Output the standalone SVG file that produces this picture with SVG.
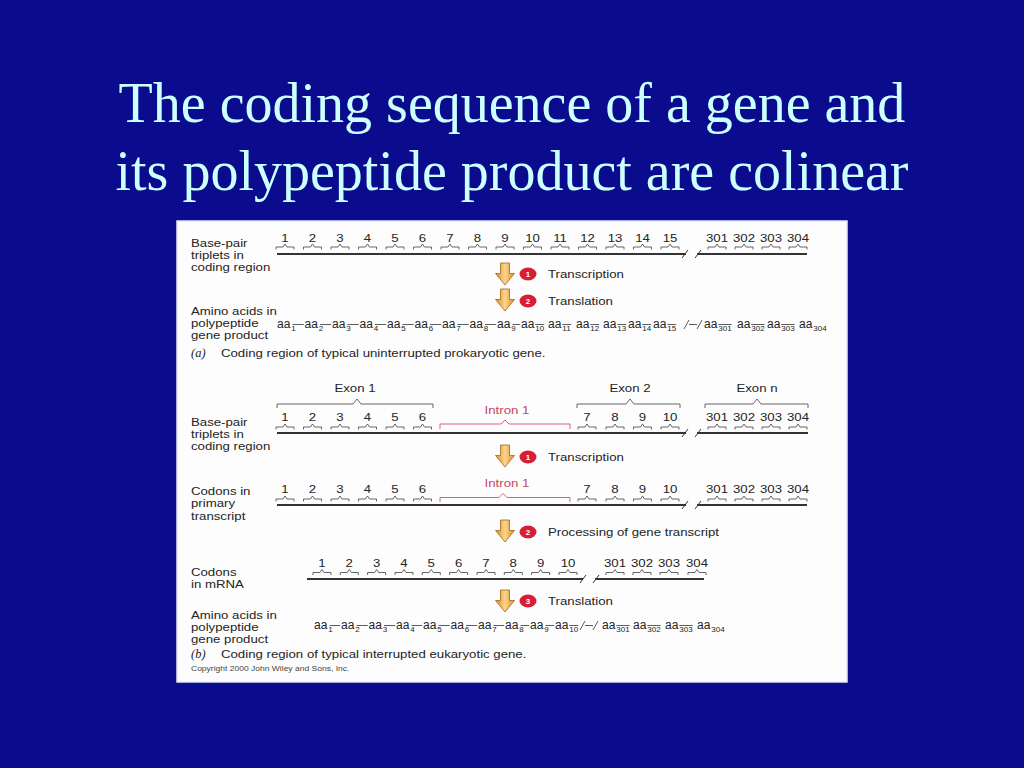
<svg xmlns="http://www.w3.org/2000/svg" xmlns:xlink="http://www.w3.org/1999/xlink" width="1024" height="768" viewBox="0 0 1024 768">
<defs>
<style>
.title{font-family:"Liberation Serif","Times New Roman",serif;font-size:56px;fill:#ccffff;text-anchor:middle}
.t{font-family:"Liberation Sans",Arial,sans-serif;font-size:11.5px;fill:#242424;transform-box:fill-box;transform-origin:0% 50%;transform:scaleX(1.15)}
.n{font-family:"Liberation Sans",Arial,sans-serif;font-size:11.5px;fill:#242424;text-anchor:middle;transform-box:fill-box;transform-origin:50% 50%;transform:scaleX(1.15)}
.red{fill:#c8485f}
.it{font-family:"Liberation Serif","Times New Roman",serif;font-style:italic;font-size:12.5px;fill:#242424}
.cp{font-family:"Liberation Sans",Arial,sans-serif;font-size:7.4px;fill:#444;transform-box:fill-box;transform-origin:0% 50%;transform:scaleX(1.15)}
.aa{font-family:"Liberation Sans",Arial,sans-serif;font-size:12px;fill:#242424}
.s{font-size:8px}
.ml{fill:none;stroke:#333;stroke-width:2}
.bm{fill:none;stroke:#333;stroke-width:1}
.br{fill:none;stroke:#555;stroke-width:0.9}
.ibr{fill:none;stroke:#d2506a;stroke-width:0.9}
.dash{fill:none;stroke:#333;stroke-width:0.8}
.arr{fill:url(#og);stroke:#9a6a20;stroke-width:0.8}
.dot{fill:#d81e35}
.dn{font-family:"Liberation Sans",Arial,sans-serif;font-size:8px;font-weight:bold;fill:#fff;text-anchor:middle}
</style>
<linearGradient id="og" x1="0" y1="0" x2="1" y2="0">
<stop offset="0" stop-color="#e08a1e"/>
<stop offset="0.5" stop-color="#fcd58e"/>
<stop offset="1" stop-color="#e08a1e"/>
</linearGradient>
<path id="arrow" class="arr" d="M-4.5,0 H4.5 V10.5 H9.5 L0,22 L-9.5,10.5 H-4.5 Z"/>
<path id="sb" d="M-9,2.5 V0 H-2 L0,-3 L2,0 H9 V2.5"/>
</defs>

<rect width="1024" height="768" fill="#0b0b8e"/>
<g id="title">
<text class="title" x="512" y="122">The coding sequence of a gene and</text>
<text class="title" x="512" y="190">its polypeptide product are colinear</text>
</g>

<rect id="panel" x="177" y="221" width="670" height="461" fill="#fdfdfd" stroke="#e3e8f7" stroke-width="1.5"/>

<!-- Part a -->
<g id="a-labels">
<text class="t" x="191" y="247">Base-pair</text>
<text class="t" x="191" y="259">triplets in</text>
<text class="t" x="191" y="271">coding region</text>
<text class="t" x="191" y="315">Amino acids in</text>
<text class="t" x="191" y="327">polypeptide</text>
<text class="t" x="191" y="339">gene product</text>
<text class="it" x="191" y="357">(a)</text>
<text class="t" x="221" y="357">Coding region of typical uninterrupted prokaryotic gene.</text>
</g>

<g id="a-triplets">
<text class="n" x="285" y="242">1</text>
<text class="n" x="312.5" y="242">2</text>
<text class="n" x="340" y="242">3</text>
<text class="n" x="367.5" y="242">4</text>
<text class="n" x="395" y="242">5</text>
<text class="n" x="422.5" y="242">6</text>
<text class="n" x="450" y="242">7</text>
<text class="n" x="477.5" y="242">8</text>
<text class="n" x="505" y="242">9</text>
<text class="n" x="532.5" y="242">10</text>
<text class="n" x="560" y="242">11</text>
<text class="n" x="587.5" y="242">12</text>
<text class="n" x="615" y="242">13</text>
<text class="n" x="642.5" y="242">14</text>
<text class="n" x="670" y="242">15</text>
<text class="n" x="717" y="242">301</text>
<text class="n" x="744" y="242">302</text>
<text class="n" x="771" y="242">303</text>
<text class="n" x="798" y="242">304</text>
<g class="br">
<use xlink:href="#sb" x="285" y="247"/><use xlink:href="#sb" x="312.5" y="247"/><use xlink:href="#sb" x="340" y="247"/><use xlink:href="#sb" x="367.5" y="247"/><use xlink:href="#sb" x="395" y="247"/><use xlink:href="#sb" x="422.5" y="247"/><use xlink:href="#sb" x="450" y="247"/><use xlink:href="#sb" x="477.5" y="247"/><use xlink:href="#sb" x="505" y="247"/><use xlink:href="#sb" x="532.5" y="247"/><use xlink:href="#sb" x="560" y="247"/><use xlink:href="#sb" x="587.5" y="247"/><use xlink:href="#sb" x="615" y="247"/><use xlink:href="#sb" x="642.5" y="247"/><use xlink:href="#sb" x="670" y="247"/><use xlink:href="#sb" x="717" y="247"/><use xlink:href="#sb" x="744" y="247"/><use xlink:href="#sb" x="771" y="247"/><use xlink:href="#sb" x="798" y="247"/>
</g>
<path class="ml" d="M277,254 H686 M697,254 H807"/>
<path class="bm" d="M682,258 L688,250 M695,258 L701,250"/>
</g>

<g id="a-aminoacids">
<text class="aa">
<tspan x="277" y="328">aa</tspan><tspan class="s" dx="1" y="331">1</tspan>
<tspan x="304.5" y="328">aa</tspan><tspan class="s" dx="1" y="331">2</tspan>
<tspan x="332" y="328">aa</tspan><tspan class="s" dx="1" y="331">3</tspan>
<tspan x="359.5" y="328">aa</tspan><tspan class="s" dx="1" y="331">4</tspan>
<tspan x="387" y="328">aa</tspan><tspan class="s" dx="1" y="331">5</tspan>
<tspan x="414.5" y="328">aa</tspan><tspan class="s" dx="1" y="331">6</tspan>
<tspan x="442" y="328">aa</tspan><tspan class="s" dx="1" y="331">7</tspan>
<tspan x="469.5" y="328">aa</tspan><tspan class="s" dx="1" y="331">8</tspan>
<tspan x="497" y="328">aa</tspan><tspan class="s" dx="1" y="331">9</tspan>
<tspan x="521" y="328">aa</tspan><tspan class="s" dx="1" y="331">10</tspan>
<tspan x="548" y="328">aa</tspan><tspan class="s" dx="1" y="331">11</tspan>
<tspan x="576" y="328">aa</tspan><tspan class="s" dx="1" y="331">12</tspan>
<tspan x="603" y="328">aa</tspan><tspan class="s" dx="1" y="331">13</tspan>
<tspan x="628" y="328">aa</tspan><tspan class="s" dx="1" y="331">14</tspan>
<tspan x="653" y="328">aa</tspan><tspan class="s" dx="1" y="331">15</tspan>
<tspan x="704" y="328">aa</tspan><tspan class="s" dx="1" y="331">301</tspan>
<tspan x="737" y="328">aa</tspan><tspan class="s" dx="1" y="331">302</tspan>
<tspan x="767" y="328">aa</tspan><tspan class="s" dx="1" y="331">303</tspan>
<tspan x="799" y="328">aa</tspan><tspan class="s" dx="1" y="331">304</tspan>
</text>
<path class="dash" d="M292.5,324.5H303.7 M320,324.5H331.2 M347.5,324.5H358.7 M375,324.5H386.2 M402.5,324.5H413.7 M430,324.5H441.2 M457.5,324.5H468.7 M485,324.5H496.2 M512.5,324.5H520.2 M535.3,324.5H544.2 M562.3,324.5H571.2 M590.3,324.5H599.2 M617.3,324.5H626.2 M642.3,324.5H651.2 M667.3,324.5H676.2 M718.3,324.5H731.6 M751.3,324.5H764.6 M781.3,324.5H794.6 M684,329L689,320 M689,324.5H697 M697,329L702,320"/>
</g>

<!-- Part b -->
<g id="b-labels">
<text class="t" x="191" y="426">Base-pair</text>
<text class="t" x="191" y="438">triplets in</text>
<text class="t" x="191" y="450">coding region</text>
<text class="t" x="191" y="495">Codons in</text>
<text class="t" x="191" y="507">primary</text>
<text class="t" x="191" y="520">transcript</text>
<text class="t" x="191" y="576">Codons</text>
<text class="t" x="191" y="588">in mRNA</text>
<text class="t" x="191" y="619">Amino acids in</text>
<text class="t" x="191" y="631">polypeptide</text>
<text class="t" x="191" y="643">gene product</text>
<text class="it" x="191" y="658">(b)</text>
<text class="t" x="221" y="658">Coding region of typical interrupted eukaryotic gene.</text>
<text class="cp" x="191" y="671">Copyright 2000 John Wiley and Sons, Inc.</text>
</g>

<g id="b-exons">
<text class="n" x="355" y="392">Exon 1</text>
<text class="n" x="630" y="392">Exon 2</text>
<text class="n" x="757" y="392">Exon n</text>
<path class="br" d="M277,408 V404 H353 L357,399 L361,404 H433 V408 M577,408 V404 H626 L630,399 L634,404 H680 V408 M705,408 V404 H753 L757,399 L761,404 H808 V408"/>
</g>

<g id="b-gene">
<text class="n" x="285" y="421">1</text>
<text class="n" x="312.5" y="421">2</text>
<text class="n" x="340" y="421">3</text>
<text class="n" x="367.5" y="421">4</text>
<text class="n" x="395" y="421">5</text>
<text class="n" x="422.5" y="421">6</text>
<text class="n red" x="507" y="414">Intron 1</text>
<text class="n" x="587" y="421">7</text>
<text class="n" x="615" y="421">8</text>
<text class="n" x="642.5" y="421">9</text>
<text class="n" x="670" y="421">10</text>
<text class="n" x="717" y="421">301</text>
<text class="n" x="744" y="421">302</text>
<text class="n" x="771" y="421">303</text>
<text class="n" x="798" y="421">304</text>
<g class="br">
<use xlink:href="#sb" x="285" y="427"/><use xlink:href="#sb" x="312.5" y="427"/><use xlink:href="#sb" x="340" y="427"/><use xlink:href="#sb" x="367.5" y="427"/><use xlink:href="#sb" x="395" y="427"/><use xlink:href="#sb" x="422.5" y="427"/><use xlink:href="#sb" x="587" y="427"/><use xlink:href="#sb" x="615" y="427"/><use xlink:href="#sb" x="642.5" y="427"/><use xlink:href="#sb" x="670" y="427"/><use xlink:href="#sb" x="717" y="427"/><use xlink:href="#sb" x="744" y="427"/><use xlink:href="#sb" x="771" y="427"/><use xlink:href="#sb" x="798" y="427"/>
</g>
<path class="ibr" d="M440,429 V424 H501 L505,420 L509,424 H570 V429"/>
<path class="ml" d="M277,433 H686 M697,433 H808"/>
<path class="bm" d="M682,437 L688,429 M695,437 L701,429"/>
</g>

<g id="b-transcript">
<text class="n" x="285" y="493">1</text>
<text class="n" x="312.5" y="493">2</text>
<text class="n" x="340" y="493">3</text>
<text class="n" x="367.5" y="493">4</text>
<text class="n" x="395" y="493">5</text>
<text class="n" x="422.5" y="493">6</text>
<text class="n red" x="507" y="487">Intron 1</text>
<text class="n" x="587" y="493">7</text>
<text class="n" x="615" y="493">8</text>
<text class="n" x="642.5" y="493">9</text>
<text class="n" x="670" y="493">10</text>
<text class="n" x="717" y="493">301</text>
<text class="n" x="744" y="493">302</text>
<text class="n" x="771" y="493">303</text>
<text class="n" x="798" y="493">304</text>
<g class="br">
<use xlink:href="#sb" x="285" y="499"/><use xlink:href="#sb" x="312.5" y="499"/><use xlink:href="#sb" x="340" y="499"/><use xlink:href="#sb" x="367.5" y="499"/><use xlink:href="#sb" x="395" y="499"/><use xlink:href="#sb" x="422.5" y="499"/><use xlink:href="#sb" x="587" y="499"/><use xlink:href="#sb" x="615" y="499"/><use xlink:href="#sb" x="642.5" y="499"/><use xlink:href="#sb" x="670" y="499"/><use xlink:href="#sb" x="717" y="499"/><use xlink:href="#sb" x="744" y="499"/><use xlink:href="#sb" x="771" y="499"/><use xlink:href="#sb" x="798" y="499"/>
</g>
<path class="ibr" d="M440,502 V497.5 H499 L503,493.5 L507,497.5 H570 V502"/>
<path class="ml" d="M277,505 H686 M697,505 H807"/>
<path class="bm" d="M682,509 L688,501 M695,509 L701,501"/>
</g>

<g id="b-mrna">
<text class="n" x="322" y="567">1</text>
<text class="n" x="349.3" y="567">2</text>
<text class="n" x="376.6" y="567">3</text>
<text class="n" x="404" y="567">4</text>
<text class="n" x="431.3" y="567">5</text>
<text class="n" x="458.6" y="567">6</text>
<text class="n" x="486" y="567">7</text>
<text class="n" x="513.3" y="567">8</text>
<text class="n" x="540.6" y="567">9</text>
<text class="n" x="568" y="567">10</text>
<text class="n" x="615" y="567">301</text>
<text class="n" x="642" y="567">302</text>
<text class="n" x="669" y="567">303</text>
<text class="n" x="697" y="567">304</text>
<g class="br">
<use xlink:href="#sb" x="322" y="572.5"/><use xlink:href="#sb" x="349.3" y="572.5"/><use xlink:href="#sb" x="376.6" y="572.5"/><use xlink:href="#sb" x="404" y="572.5"/><use xlink:href="#sb" x="431.3" y="572.5"/><use xlink:href="#sb" x="458.6" y="572.5"/><use xlink:href="#sb" x="486" y="572.5"/><use xlink:href="#sb" x="513.3" y="572.5"/><use xlink:href="#sb" x="540.6" y="572.5"/><use xlink:href="#sb" x="568" y="572.5"/><use xlink:href="#sb" x="615" y="572.5"/><use xlink:href="#sb" x="642" y="572.5"/><use xlink:href="#sb" x="669" y="572.5"/><use xlink:href="#sb" x="697" y="572.5"/>
</g>
<path class="ml" d="M307,579 H583 M595,579 H704"/>
<path class="bm" d="M580,583 L586,575 M593,583 L599,575"/>
</g>

<g id="b-aminoacids">
<text class="aa">
<tspan x="314" y="629">aa</tspan><tspan class="s" dx="1" y="632">1</tspan>
<tspan x="341" y="629">aa</tspan><tspan class="s" dx="1" y="632">2</tspan>
<tspan x="368.5" y="629">aa</tspan><tspan class="s" dx="1" y="632">3</tspan>
<tspan x="396" y="629">aa</tspan><tspan class="s" dx="1" y="632">4</tspan>
<tspan x="423" y="629">aa</tspan><tspan class="s" dx="1" y="632">5</tspan>
<tspan x="450.5" y="629">aa</tspan><tspan class="s" dx="1" y="632">6</tspan>
<tspan x="478" y="629">aa</tspan><tspan class="s" dx="1" y="632">7</tspan>
<tspan x="505" y="629">aa</tspan><tspan class="s" dx="1" y="632">8</tspan>
<tspan x="530" y="629">aa</tspan><tspan class="s" dx="1" y="632">9</tspan>
<tspan x="555" y="629">aa</tspan><tspan class="s" dx="1" y="632">10</tspan>
<tspan x="602" y="629">aa</tspan><tspan class="s" dx="1" y="632">301</tspan>
<tspan x="633" y="629">aa</tspan><tspan class="s" dx="1" y="632">302</tspan>
<tspan x="665" y="629">aa</tspan><tspan class="s" dx="1" y="632">303</tspan>
<tspan x="697" y="629">aa</tspan><tspan class="s" dx="1" y="632">304</tspan>
</text>
<path class="dash" d="M329.5,625.5H340.2 M356.5,625.5H367.7 M384,625.5H395.2 M411.5,625.5H422.2 M438.5,625.5H449.7 M466,625.5H477.2 M493.5,625.5H504.2 M520.5,625.5H529.2 M545.5,625.5H554.2 M569.3,625.5H578.2 M616.3,625.5H629.6 M647.3,625.5H660.6 M679.3,625.5H692.6 M580,630L585,621 M585,625.5H593 M593,630L598,621"/>
</g>

<g id="connectors">
<use xlink:href="#arrow" x="505" y="263"/>
<use xlink:href="#arrow" x="505" y="289"/>
<use xlink:href="#arrow" x="505" y="445"/>
<use xlink:href="#arrow" x="505" y="520"/>
<use xlink:href="#arrow" x="505" y="590"/>
</g>

<g id="steps">
<ellipse class="dot" cx="528" cy="274" rx="8.5" ry="6.5"/><text class="dn" x="528" y="277">1</text>
<text class="t" x="548" y="278">Transcription</text>
<ellipse class="dot" cx="528" cy="301" rx="8.5" ry="6.5"/><text class="dn" x="528" y="304">2</text>
<text class="t" x="548" y="305">Translation</text>
<ellipse class="dot" cx="528" cy="457" rx="8.5" ry="6.5"/><text class="dn" x="528" y="460">1</text>
<text class="t" x="548" y="461">Transcription</text>
<ellipse class="dot" cx="528" cy="532" rx="8.5" ry="6.5"/><text class="dn" x="528" y="535">2</text>
<text class="t" x="548" y="536">Processing of gene transcript</text>
<ellipse class="dot" cx="528" cy="601" rx="8.5" ry="6.5"/><text class="dn" x="528" y="604">3</text>
<text class="t" x="548" y="605">Translation</text>
</g>
</svg>
